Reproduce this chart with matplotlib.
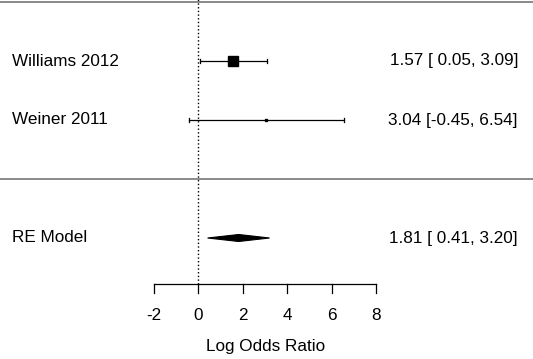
import numpy as np
import matplotlib
matplotlib.use("Agg")
import matplotlib.pyplot as plt
from matplotlib.patches import Polygon

plt.rcParams["font.family"] = ["Liberation Sans", "DejaVu Sans"]

# study data (log odds ratios)
studies = ["Williams 2012", "Weiner 2011"]
est = [1.57, 3.04]
ci_lo = [0.05, -0.45]
ci_hi = [3.09, 6.54]
sq_size = [7.9, 1.9]
rows = [2, 1]

re_label = "RE Model"
re_est, re_lo, re_hi = 1.81, 0.41, 3.20
re_row = -1

xticks = [-2, 0, 2, 4, 6, 8]

fig = plt.figure(figsize=(5.33, 3.59), dpi=100)
ax = fig.add_axes([0, 0, 1, 1])
ax.set_xlim(-198.5 / 22.2, (533 - 198.5) / 22.2)
ax.set_ylim(1 - 239 / 59, 1 + 120 / 59)
ax.axis("off")

fs = 12.3
lbl = ax.get_yaxis_transform()  # x in axes fraction, y in data
right_x = 518 / 533

# horizontal separator lines
ax.axhline(3.0, color="#8a8a8a", lw=1.4)
ax.axhline(0.0, color="#8a8a8a", lw=1.4)

# axis / reference line
y_axis = 1 - (284 - 120) / 59
ax.plot([0, 0], [y_axis, 3.1], color="black", ls=":", lw=1.0)

cap = 2.2 / 59
for s, e, lo, hi, ms, r in zip(studies, est, ci_lo, ci_hi, sq_size, rows):
    ax.plot([lo, hi], [r, r], color="black", lw=0.9)
    ax.plot([lo, lo], [r - cap, r + cap], color="black", lw=0.9)
    ax.plot([hi, hi], [r - cap, r + cap], color="black", lw=0.9)
    ax.plot(e, r, marker="s", ms=ms, color="black", mec="black")
    ax.text(12 / 533, r, s, transform=lbl, ha="left", va="center", fontsize=fs)
    ax.text(right_x, r, "{:.2f} [{:5.2f}, {:.2f}]".format(e, lo, hi).replace("[ -", "[-"),
            transform=lbl, ha="right", va="center", fontsize=fs)

h = 3.5 / 59
ax.add_patch(Polygon([[re_lo, re_row], [re_est, re_row + h], [re_hi, re_row], [re_est, re_row - h]],
                     closed=True, fc="black", ec="black", lw=0.8))
ax.text(12 / 533, re_row, re_label, transform=lbl, ha="left", va="center", fontsize=fs)
ax.text(right_x, re_row, "{:.2f} [{:5.2f}, {:.2f}]".format(re_est, re_lo, re_hi),
        transform=lbl, ha="right", va="center", fontsize=fs)

# x axis drawn by hand, forest-plot style
tick_len = 9 / 59
ax.plot([xticks[0], xticks[-1]], [y_axis, y_axis], color="black", lw=0.9)
for t in xticks:
    ax.plot([t, t], [y_axis, y_axis - tick_len], color="black", lw=0.9)
    ax.text(t, 1 - (315 - 120) / 59, str(t), ha="center", va="center", fontsize=fs)
ax.text(np.mean([xticks[0], xticks[-1]]), 1 - (347 - 120) / 59, "Log Odds Ratio",
        ha="center", va="center", fontsize=fs)

fig.savefig("out.png", dpi=100)
